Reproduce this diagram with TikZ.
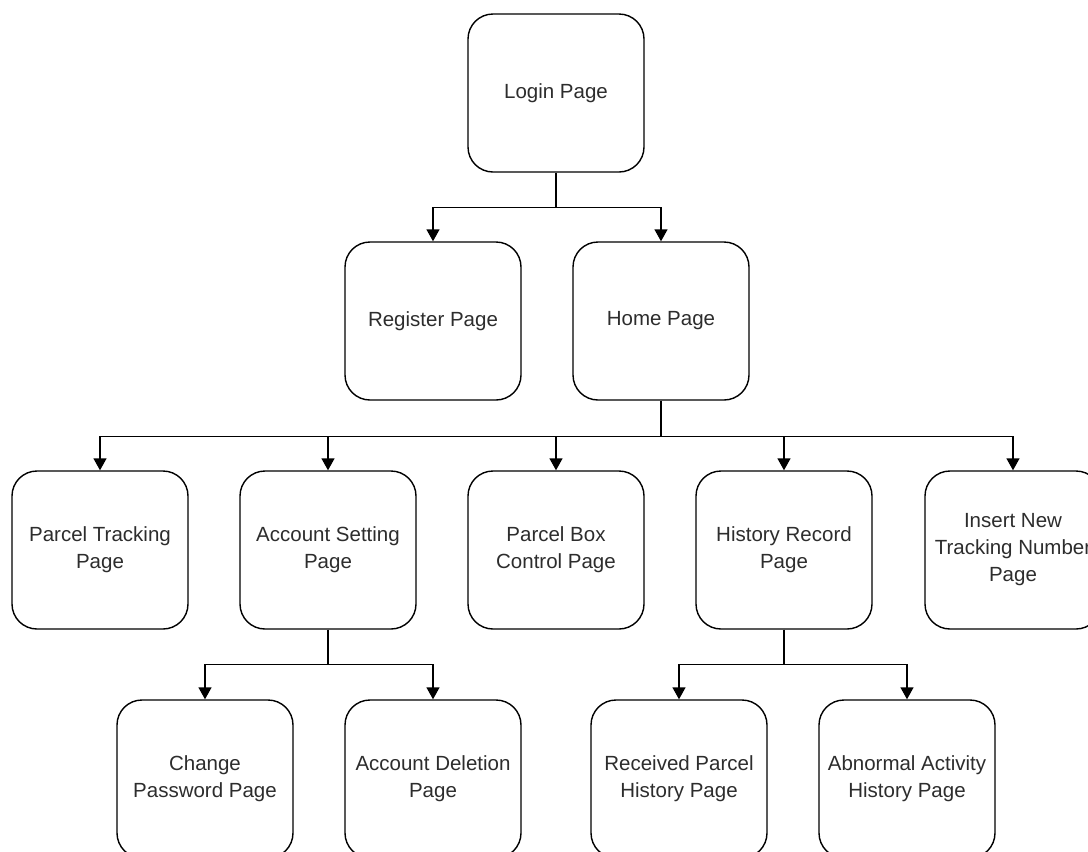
\documentclass[tikz,border=0pt]{standalone}
\usepackage{fontspec}
\setmainfont{Liberation Sans}
\usetikzlibrary{arrows.meta}
\definecolor{txt}{RGB}{45,45,45}
\tikzset{
  page/.style={draw=black, line width=1.4pt, rounded corners=25pt, minimum width=176pt, minimum height=158pt, align=center, inner sep=0pt, text=txt, font=\fontsize{20.5}{27}\selectfont},
  arr/.style={draw=black, line width=1.4pt, -{Triangle[width=13pt,length=12pt]}},
  lnk/.style={draw=black, line width=1.4pt}
}
\begin{document}
\begin{tikzpicture}[x=1pt,y=-1pt]
\useasboundingbox (0,0) rectangle (1088,852);
\clip (0,0) rectangle (1088,852);
\fill[white] (0,0) rectangle (1088,852);
% row 1
\node[page] (login) at (556,93) {Login Page};
% row 2
\node[page] (reg) at (433,321) {Register Page};
\node[page] (home) at (661,321) {Home Page};
% row 3
\node[page] (track) at (100,550) {Parcel Tracking\\Page};
\node[page] (acct) at (328,550) {Account Setting\\Page};
\node[page] (box) at (556,550) {Parcel Box\\Control Page};
\node[page] (hist) at (784,550) {History Record\\Page};
\node[page] (ins) at (1013,550) {Insert New\\Tracking Number\\Page};
% row 4
\node[page] (pwd) at (205,779) {Change\\Password Page};
\node[page] (del) at (433,779) {Account Deletion\\Page};
\node[page] (recv) at (679,779) {Received Parcel\\History Page};
\node[page] (abn) at (907,779) {Abnormal Activity\\History Page};
% connectors
\coordinate (j1) at ([yshift=-35pt]login.south);
\draw[lnk] (login.south) -- (j1);
\draw[arr] (j1) -| (reg.north);
\draw[arr] (j1) -| (home.north);
\coordinate (j2) at ([yshift=-36pt]home.south);
\draw[lnk] (home.south) -- (j2);
\draw[arr] (j2) -| (track.north);
\draw[arr] (j2) -| (acct.north);
\draw[arr] (j2) -| (box.north);
\draw[arr] (j2) -| (hist.north);
\draw[arr] (j2) -| (ins.north);
\coordinate (j3) at ([yshift=-35pt]acct.south);
\draw[lnk] (acct.south) -- (j3);
\draw[arr] (j3) -| (pwd.north);
\draw[arr] (j3) -| (del.north);
\coordinate (j4) at ([yshift=-35pt]hist.south);
\draw[lnk] (hist.south) -- (j4);
\draw[arr] (j4) -| (recv.north);
\draw[arr] (j4) -| (abn.north);
\end{tikzpicture}
\end{document}
